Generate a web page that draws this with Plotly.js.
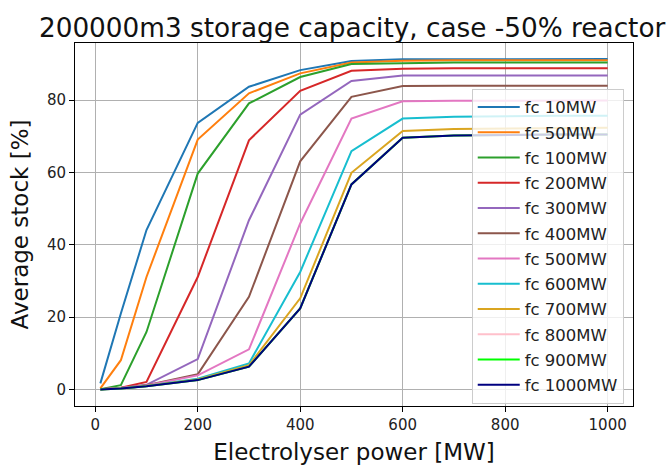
<!DOCTYPE html>
<html>
<head>
<meta charset="utf-8">
<script src="https://cdn.plot.ly/plotly-3.0.1.min.js"></script>
<style>html,body{margin:0;padding:0;background:#fff;}#chart{width:672px;height:465px;}</style>
</head>
<body>
<div id="chart"></div>
<script>
const electrolyser = [10, 50, 100, 200, 300, 400, 500, 600, 700, 800, 900, 1000];
const seriesNames = ["fc 10MW","fc 50MW","fc 100MW","fc 200MW","fc 300MW","fc 400MW","fc 500MW","fc 600MW","fc 700MW","fc 800MW","fc 900MW","fc 1000MW"];
const fc10   = [1.7, 21.0, 44.1, 73.7, 83.7, 88.3, 90.8, 91.3, 91.3, 91.4, 91.4, 91.4];
const fc50   = [0.3, 8.1, 31.1, 69.1, 81.9, 87.4, 90.4, 90.9, 91.0, 91.0, 91.0, 91.0];
const fc100  = [0.1, 1.2, 15.9, 59.7, 79.1, 86.4, 90.0, 90.3, 90.4, 90.4, 90.4, 90.4];
const fc200  = [0.1, 0.5, 2.1, 31.1, 68.9, 82.6, 88.1, 88.7, 88.8, 88.8, 88.8, 88.8];
const fc300  = [0.1, 0.4, 1.3, 8.4, 46.8, 76.0, 85.3, 86.8, 86.8, 86.8, 86.8, 86.8];
const fc400  = [0.1, 0.4, 1.2, 4.2, 25.6, 63.1, 80.9, 83.9, 84.0, 84.0, 84.0, 84.0];
const fc500  = [0.1, 0.4, 1.1, 3.9, 11.1, 45.9, 74.9, 79.7, 79.8, 79.9, 79.9, 79.9];
const fc600  = [0.1, 0.3, 1.0, 3.0, 7.2, 32.5, 65.9, 74.9, 75.4, 75.6, 75.7, 75.7];
const fc700  = [0.1, 0.3, 1.0, 2.8, 6.7, 25.2, 59.9, 71.5, 72.0, 72.2, 72.3, 72.4];
const fc800  = [0.0, 0.3, 0.9, 2.6, 6.3, 22.4, 56.7, 69.6, 70.2, 70.4, 70.5, 70.5];
const fc900  = [0.0, 0.3, 0.9, 2.6, 6.3, 22.4, 56.7, 69.6, 70.2, 70.4, 70.5, 70.5];
const fc1000 = [0.0, 0.3, 0.9, 2.6, 6.3, 22.4, 56.7, 69.6, 70.2, 70.4, 70.5, 70.5];
const allSeries = [fc10, fc50, fc100, fc200, fc300, fc400, fc500, fc600, fc700, fc800, fc900, fc1000];
const colors = ["#1f77b4","#ff7f0e","#2ca02c","#d62728","#9467bd","#8c564b","#e377c2","#17becf","#daa520","#ffc0cb","#00ff00","#000080"];
const xTicks = [0, 200, 400, 600, 800, 1000];
const yTicks = [0, 20, 40, 60, 80];

const FONT = "DejaVu Sans, sans-serif";
const traces = allSeries.map((ys, i) => ({
  x: electrolyser, y: ys, type: "scatter", mode: "lines",
  name: seriesNames[i], legendgroup: "g" + i,
  line: {color: colors[i], width: 2}
}));

const axisCommon = {
  showgrid: true, gridcolor: "#b0b0b0", gridwidth: 1,
  showline: true, mirror: true, linecolor: "#000", linewidth: 1,
  ticks: "outside", ticklen: 5, tickcolor: "#000", tickwidth: 1,
  zeroline: false, tickfont: {family: FONT, size: 15, color: "#222"}
};

const layout = {
  width: 672, height: 465,
  margin: {l: 75, r: 39, t: 43, b: 59},
  paper_bgcolor: "#fff", plot_bgcolor: "#fff",
  title: {text: "200000m3 storage capacity, case -50% reactor", font: {family: FONT, size: 26.3, color: "#111"},
          x: 0.524, xanchor: "center", y: 0.92, yref: "container", yanchor: "bottom"},
  xaxis: Object.assign({}, axisCommon, {range: [-39.5, 1049.5], tickvals: xTicks,
    title: {text: "Electrolyser power [MW]", font: {family: FONT, size: 23, color: "#111"}, standoff: 10}}),
  yaxis: Object.assign({}, axisCommon, {range: [-4.56, 95.8], tickvals: yTicks,
    title: {text: "Average stock [%]", font: {family: FONT, size: 23, color: "#111"}, standoff: 11}}),
  legend: {x: 0.711, y: 0.874, xanchor: "left", yanchor: "top",
    bgcolor: "rgba(255,255,255,0.8)", bordercolor: "#cccccc", borderwidth: 1,
    font: {family: FONT, size: 16.5, color: "#222"}, tracegroupgap: 0.8, itemwidth: 42},
  showlegend: true
};

Plotly.newPlot("chart", traces, layout, {displayModeBar: false, staticPlot: true});
</script>
</body>
</html>
